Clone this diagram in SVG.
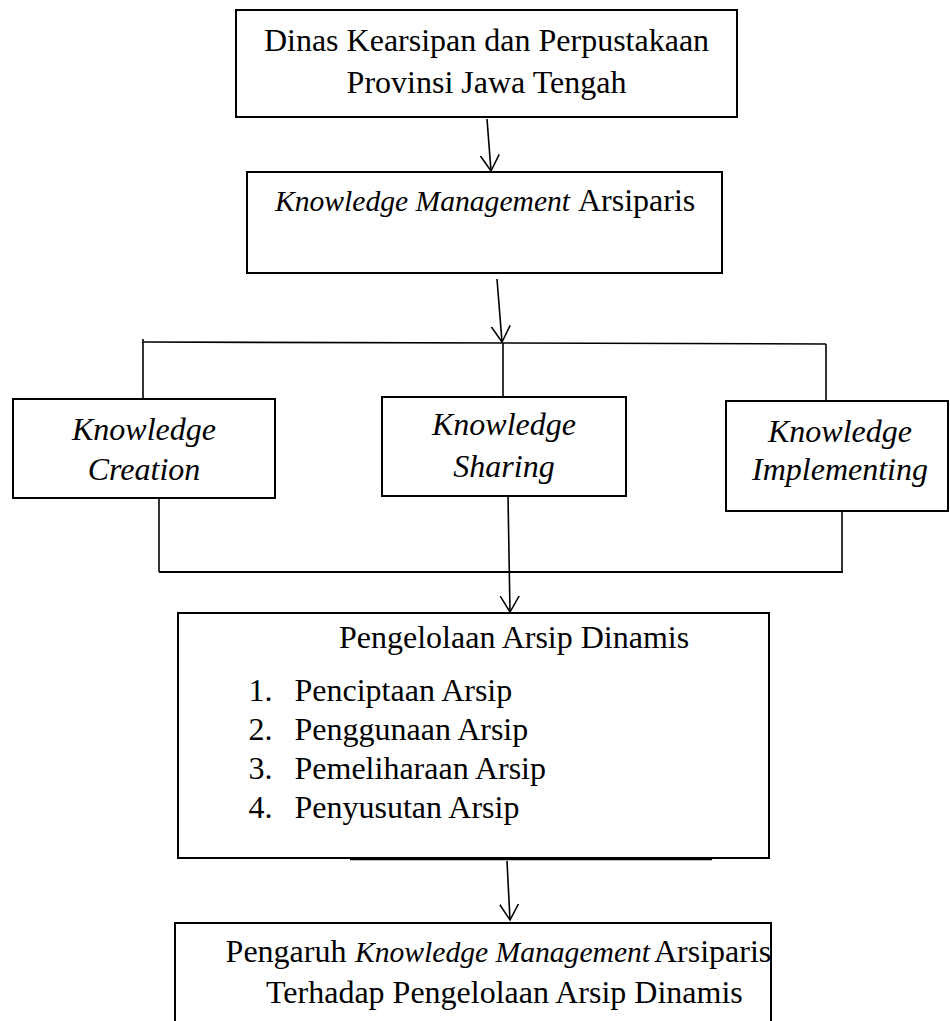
<svg xmlns="http://www.w3.org/2000/svg" width="950" height="1021" viewBox="0 0 950 1021">
<style>
.box{fill:#fff;stroke:#000;stroke-width:2}
.t{font-family:"Liberation Serif","Times New Roman",serif;font-size:32px;fill:#000}
.c{text-anchor:middle}
.i{font-style:italic}
.km{font-size:29.6px}
.ln{fill:none;stroke:#000;stroke-width:1.6}
</style>
<defs>
<marker id="ah" markerUnits="userSpaceOnUse" markerWidth="22" markerHeight="24" refX="16" refY="10" orient="auto">
<path d="M0,0.5 L16,10 L0,19.5" fill="none" stroke="#000" stroke-width="1.5"/>
</marker>
</defs>
<rect width="950" height="1021" fill="#fff"/>
<g id="connectors">
<line class="ln" x1="487" y1="119" x2="491" y2="171" marker-end="url(#ah)"/>
<line class="ln" x1="497" y1="279" x2="502" y2="342" marker-end="url(#ah)"/>
<line class="ln" x1="143" y1="342" x2="826" y2="344"/>
<line class="ln" x1="143" y1="339" x2="143" y2="399"/>
<line class="ln" x1="503" y1="343" x2="503" y2="397"/>
<line class="ln" x1="826" y1="344" x2="826" y2="401"/>
<line class="ln" x1="159" y1="498" x2="159" y2="572"/>
<line class="ln" x1="842" y1="511" x2="842" y2="572"/>
<line class="ln" x1="159" y1="572" x2="843" y2="572" style="stroke-width:2"/>
<line class="ln" x1="508" y1="496" x2="510" y2="612" marker-end="url(#ah)"/>
<line class="ln" x1="507" y1="861" x2="510" y2="920" marker-end="url(#ah)"/>
</g>
<g id="dinas">
<rect class="box" x="236" y="10" width="501" height="107"/>
<text class="t c" x="486.5" y="51">Dinas Kearsipan dan Perpustakaan</text>
<text class="t c" x="486.5" y="93">Provinsi Jawa Tengah</text>
</g>
<g id="km-arsiparis">
<rect class="box" x="247" y="172" width="475" height="101"/>
<text class="t i km" x="275" y="211">Knowledge Management</text>
<text class="t" x="578" y="211">Arsiparis</text>
</g>
<g id="k-creation">
<rect class="box" x="13" y="399" width="262" height="99"/>
<text class="t c i" x="144" y="440">Knowledge</text>
<text class="t c i" x="144" y="480">Creation</text>
</g>
<g id="k-sharing">
<rect class="box" x="382" y="397" width="244" height="99"/>
<text class="t c i" x="504" y="435">Knowledge</text>
<text class="t c i" x="504" y="477">Sharing</text>
</g>
<g id="k-implementing">
<rect class="box" x="726" y="401" width="222" height="110"/>
<text class="t c i" x="840" y="442">Knowledge</text>
<text class="t c i" x="840" y="480">Implementing</text>
</g>
<g id="pengelolaan">
<rect class="box" x="178" y="613" width="591" height="245"/>
<line x1="350" y1="859.5" x2="712" y2="859.5" stroke="#000" stroke-width="1.5"/>
<text class="t" x="339" y="648">Pengelolaan Arsip Dinamis</text>
<text class="t" x="248.5" y="701">1.</text><text class="t" x="294.5" y="701">Penciptaan Arsip</text>
<text class="t" x="248.5" y="740">2.</text><text class="t" x="294.5" y="740">Penggunaan Arsip</text>
<text class="t" x="248.5" y="779">3.</text><text class="t" x="294.5" y="779">Pemeliharaan Arsip</text>
<text class="t" x="248.5" y="818">4.</text><text class="t" x="294.5" y="818">Penyusutan Arsip</text>
</g>
<g id="pengaruh">
<rect class="box" x="175" y="923" width="596" height="115"/>
<text class="t" x="225.6" y="962">Pengaruh</text>
<text class="t i km" x="355" y="962">Knowledge Management</text>
<text class="t" x="654" y="962">Arsiparis</text>
<text class="t" x="266" y="1003">Terhadap Pengelolaan Arsip Dinamis</text>
</g>
</svg>
